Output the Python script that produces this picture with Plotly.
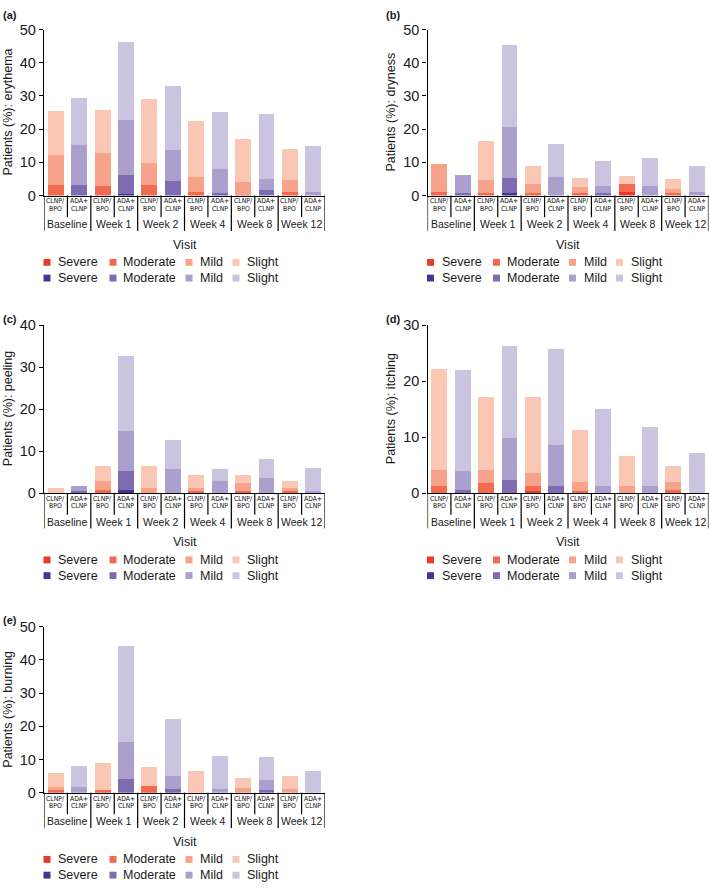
import plotly.graph_objects as go

W, H = 709, 891

VISITS = ["Baseline", "Week 1", "Week 2", "Week 4", "Week 8", "Week 12"]
ARM_LABELS = [["CLNP/", "BPO"], ["ADA+", "CLNP"]]
SEVERITY = ["Severe", "Moderate", "Mild", "Slight"]
RED = ["#e8392d", "#f26a4f", "#f7a38b", "#f9c7b4"]
PURPLE = ["#46358f", "#7d6cb2", "#ab9fcd", "#cbc4e1"]

# ---- (a) erythema ----
ERY_CLNP_SEVERE = [0.0, 0.0, 0.0, 0.0, 0.0, 0.0]
ERY_CLNP_MODERATE = [3.3, 2.8, 3.3, 1.0, 0.3, 1.1]
ERY_CLNP_MILD = [8.8, 9.9, 6.6, 4.7, 3.7, 3.7]
ERY_CLNP_SLIGHT = [13.5, 13.1, 19.2, 16.8, 13.0, 9.1]
ERY_ADA_SEVERE = [0.0, 0.6, 0.0, 0.0, 0.0, 0.0]
ERY_ADA_MODERATE = [3.3, 5.5, 4.3, 0.9, 1.7, 0.0]
ERY_ADA_MILD = [11.8, 16.7, 9.3, 7.1, 3.4, 1.1]
ERY_ADA_SLIGHT = [14.3, 23.6, 19.5, 17.2, 19.5, 13.7]

# ---- (b) dryness ----
DRY_CLNP_SEVERE = [0.0, 0.0, 0.0, 0.0, 1.2, 0.0]
DRY_CLNP_MODERATE = [1.2, 0.7, 0.7, 0.7, 2.4, 0.7]
DRY_CLNP_MILD = [8.2, 4.1, 2.9, 1.8, 0.0, 1.2]
DRY_CLNP_SLIGHT = [0.0, 11.7, 5.4, 2.8, 2.4, 3.1]
DRY_ADA_SEVERE = [0.0, 0.8, 0.0, 0.0, 0.0, 0.0]
DRY_ADA_MODERATE = [0.7, 4.4, 0.0, 0.7, 0.0, 0.0]
DRY_ADA_MILD = [5.5, 15.4, 5.6, 2.3, 3.0, 1.1]
DRY_ADA_SLIGHT = [0.0, 24.8, 10.0, 7.4, 8.2, 7.9]

# ---- (c) peeling ----
PEE_CLNP_SEVERE = [0.0, 0.0, 0.0, 0.0, 0.0, 0.0]
PEE_CLNP_MODERATE = [0.0, 0.7, 0.0, 0.5, 0.5, 0.5]
PEE_CLNP_MILD = [0.0, 2.2, 1.3, 0.7, 2.0, 0.8]
PEE_CLNP_SLIGHT = [1.2, 3.6, 5.2, 3.0, 1.8, 1.7]
PEE_ADA_SEVERE = [0.0, 0.7, 0.0, 0.0, 0.0, 0.0]
PEE_ADA_MODERATE = [0.4, 4.5, 0.0, 0.0, 0.0, 0.0]
PEE_ADA_MILD = [1.35, 9.7, 5.7, 2.9, 3.5, 0.6]
PEE_ADA_SLIGHT = [0.0, 17.7, 6.9, 2.9, 4.7, 5.3]

# ---- (d) itching ----
ITC_CLNP_SEVERE = [0.0, 0.0, 0.4, 0.0, 0.0, 0.0]
ITC_CLNP_MODERATE = [1.2, 1.8, 0.9, 0.4, 0.0, 0.6]
ITC_CLNP_MILD = [2.9, 2.4, 2.3, 1.5, 1.2, 1.3]
ITC_CLNP_SLIGHT = [18.0, 12.9, 13.6, 9.4, 5.5, 3.0]
ITC_ADA_SEVERE = [0.0, 0.0, 0.0, 0.0, 0.0, 0.0]
ITC_ADA_MODERATE = [0.5, 2.35, 1.2, 0.0, 0.0, 0.0]
ITC_ADA_MILD = [3.5, 7.45, 7.4, 1.2, 1.2, 0.0]
ITC_ADA_SLIGHT = [18.0, 16.5, 17.1, 13.8, 10.6, 7.2]

# ---- (e) burning ----
BUR_CLNP_SEVERE = [0.0, 0.0, 0.0, 0.0, 0.0, 0.0]
BUR_CLNP_MODERATE = [0.7, 0.7, 1.9, 0.0, 0.0, 0.0]
BUR_CLNP_MILD = [1.1, 0.0, 0.0, 0.0, 1.4, 1.2]
BUR_CLNP_SLIGHT = [4.1, 8.2, 5.8, 6.6, 2.9, 3.7]
BUR_ADA_SEVERE = [0.0, 0.0, 0.0, 0.0, 0.0, 0.0]
BUR_ADA_MODERATE = [0.0, 4.0, 1.2, 0.0, 0.7, 0.0]
BUR_ADA_MILD = [1.7, 11.4, 3.9, 1.2, 3.0, 0.0]
BUR_ADA_SLIGHT = [6.3, 28.9, 17.2, 9.9, 6.9, 6.6]

PANELS = [
    dict(tag="(a)", name="erythema", ymax=50,
         clnp=[ERY_CLNP_SEVERE, ERY_CLNP_MODERATE, ERY_CLNP_MILD, ERY_CLNP_SLIGHT],
         ada=[ERY_ADA_SEVERE, ERY_ADA_MODERATE, ERY_ADA_MILD, ERY_ADA_SLIGHT],
         box=(44, 325, 22, 191), title_x=8, tag_pos=(1, 7.5)),
    dict(tag="(b)", name="dryness", ymax=50,
         clnp=[DRY_CLNP_SEVERE, DRY_CLNP_MODERATE, DRY_CLNP_MILD, DRY_CLNP_SLIGHT],
         ada=[DRY_ADA_SEVERE, DRY_ADA_MODERATE, DRY_ADA_MILD, DRY_ADA_SLIGHT],
         box=(427.5, 708.5, 22, 191), title_x=391, tag_pos=(384, 7.5)),
    dict(tag="(c)", name="peeling", ymax=40,
         clnp=[PEE_CLNP_SEVERE, PEE_CLNP_MODERATE, PEE_CLNP_MILD, PEE_CLNP_SLIGHT],
         ada=[PEE_ADA_SEVERE, PEE_ADA_MODERATE, PEE_ADA_MILD, PEE_ADA_SLIGHT],
         box=(44, 325, 323, 494), title_x=8, tag_pos=(1, 317)),
    dict(tag="(d)", name="itching", ymax=30,
         clnp=[ITC_CLNP_SEVERE, ITC_CLNP_MODERATE, ITC_CLNP_MILD, ITC_CLNP_SLIGHT],
         ada=[ITC_ADA_SEVERE, ITC_ADA_MODERATE, ITC_ADA_MILD, ITC_ADA_SLIGHT],
         box=(427.5, 708.5, 323, 494), title_x=391, tag_pos=(384, 317)),
    dict(tag="(e)", name="burning", ymax=50,
         clnp=[BUR_CLNP_SEVERE, BUR_CLNP_MODERATE, BUR_CLNP_MILD, BUR_CLNP_SLIGHT],
         ada=[BUR_ADA_SEVERE, BUR_ADA_MODERATE, BUR_ADA_MILD, BUR_ADA_SLIGHT],
         box=(44, 325, 630, 799), title_x=8, tag_pos=(1, 623)),
]

FONT = "Liberation Sans, Arial, Helvetica, sans-serif"
NARROW = "Liberation Sans Narrow, Arial Narrow, DejaVu Sans Condensed, Liberation Sans, sans-serif"
TXT = "#1a1a1a"


def px(x):
    return x / W


def py(y):
    return 1 - y / H


fig = go.Figure()
layout = dict(
    width=W, height=H, autosize=False,
    margin=dict(l=0, r=0, t=0, b=0),
    plot_bgcolor="white", paper_bgcolor="white",
    barmode="stack", showlegend=False,
    font=dict(family=FONT, color=TXT, size=12),
)
shapes = []
annotations = []

LEG_SQ = [3, 69, 145, 192]
LEG_TX = [12, 77, 154, 201]

for n, p in enumerate(PANELS, start=1):
    xa = "x" if n == 1 else f"x{n}"
    ya = "y" if n == 1 else f"y{n}"
    l, r, t, b = p["box"]
    nv = len(VISITS)
    x_clnp = [2 * i for i in range(nv)]
    x_ada = [2 * i + 1 for i in range(nv)]
    for arm_x, arm_vals, cols in ((x_clnp, p["clnp"], RED), (x_ada, p["ada"], PURPLE)):
        for s, vals in enumerate(arm_vals):
            fig.add_trace(go.Bar(
                x=arm_x, y=vals, width=0.68,
                marker=dict(color=cols[s], line=dict(width=0)),
                name=SEVERITY[s], xaxis=xa, yaxis=ya,
                hovertemplate="%{y}<extra>" + SEVERITY[s] + "</extra>",
            ))
    layout["xaxis" if n == 1 else f"xaxis{n}"] = dict(
        domain=[px(l), px(r)], range=[-0.5, 2 * nv - 0.5], anchor=ya,
        showline=True, linecolor="black", linewidth=1.3,
        showticklabels=False, ticks="", showgrid=False, zeroline=False,
        fixedrange=True,
    )
    layout["yaxis" if n == 1 else f"yaxis{n}"] = dict(
        domain=[py(b), py(t)], range=[0, p["ymax"]], anchor=xa, dtick=10,
        showline=True, linecolor="black", linewidth=1.3,
        ticks="outside", ticklen=4, tickwidth=1.3, tickcolor="black",
        showgrid=False, zeroline=False, tickfont=dict(size=14.5, color=TXT),
        fixedrange=True,
    )
    # category boxes under the axis
    for k in range(2 * nv + 1):
        group = (k % 2 == 0)
        shapes.append(dict(
            type="line", xref=xa, yref="paper",
            x0=k - 0.5, x1=k - 0.5, y0=py(b), y1=py(b + (36 if group else 22)),
            line=dict(color="black", width=1.2),
        ))
    for j in range(2 * nv):
        lab = ARM_LABELS[j % 2]
        annotations.append(dict(x=j, y=py(b + 6), xref=xa, yref="paper", text=lab[0],
                                showarrow=False, xanchor="center", yanchor="middle",
                                font=dict(size=6.8, color="#111111", family=NARROW)))
        annotations.append(dict(x=j, y=py(b + 13.5), xref=xa, yref="paper", text=lab[1],
                                showarrow=False, xanchor="center", yanchor="middle",
                                font=dict(size=6.8, color="#111111", family=NARROW)))
    for g, v in enumerate(VISITS):
        annotations.append(dict(x=2 * g + 0.5, y=py(b + 29), xref=xa, yref="paper", text=v,
                                showarrow=False, xanchor="center", yanchor="middle",
                                font=dict(size=10.5, color=TXT)))
    annotations.append(dict(x=px((l + r) / 2), y=py(b + 50),
                            xref="paper", yref="paper", text="Visit",
                            showarrow=False, xanchor="center", yanchor="middle",
                            font=dict(size=12.5, color=TXT)))
    # y title
    annotations.append(dict(x=px(p["title_x"]), y=py((t + b) / 2), xref="paper", yref="paper",
                            text=f"Patients (%): {p['name']}", textangle=-90,
                            showarrow=False, xanchor="center", yanchor="middle",
                            font=dict(size=12.5, color=TXT)))
    # panel tag
    annotations.append(dict(x=px(p["tag_pos"][0]), y=py(p["tag_pos"][1]), xref="paper", yref="paper",
                            text=f"<b>{p['tag']}</b>", showarrow=False,
                            xanchor="left", yanchor="middle", font=dict(size=11, color=TXT)))
    # legend
    for row, cols in enumerate((RED, PURPLE)):
        yy = b + 68 + 16 * row
        for s in range(4):
            cx = l + LEG_SQ[s]
            shapes.append(dict(type="rect", xref="paper", yref="paper",
                               x0=px(cx - 3.5), x1=px(cx + 3.5), y0=py(yy + 3.5), y1=py(yy - 3.5),
                               fillcolor=cols[s], line=dict(width=0)))
            annotations.append(dict(x=px(l + LEG_TX[s]), y=py(yy), xref="paper", yref="paper",
                                    text=SEVERITY[s], showarrow=False,
                                    xanchor="left", yanchor="middle",
                                    font=dict(size=12.5, color=TXT)))

layout["shapes"] = shapes
layout["annotations"] = annotations
fig.update_layout(**layout)
fig.write_html(
    "out.html",
    config={"displayModeBar": False},
    post_script="document.body.style.margin='0px';document.body.style.overflow='hidden';",
)
